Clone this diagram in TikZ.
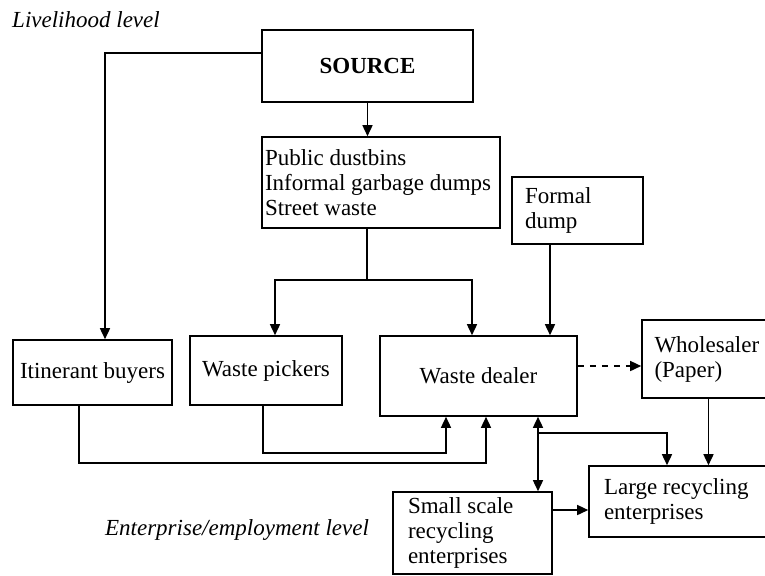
\documentclass[tikz,border=0pt]{standalone}
\usepackage{fontspec}
\setmainfont{Liberation Serif}
\usetikzlibrary{arrows.meta}

\begin{document}
\begin{tikzpicture}[x=0.5pt, y=-0.5pt, line width=0.75pt,
        font=\fontsize{11.5}{12.5}\selectfont,
        box/.style={draw, line width=0.8pt, inner sep=0pt},
        lbox/.style={box, align=flush left, inner xsep=#1},
        arr/.style={-{Triangle[length=5.5pt, width=5pt]}},
        dblarr/.style={{Triangle[length=5.5pt, width=5pt]}-{Triangle[length=5.5pt, width=5pt]}}]
    \useasboundingbox (0,0) rectangle (765,575);

    % level labels
    \node[font=\fontsize{11.5}{12.5}\selectfont\itshape] (livelihood) at (86,20) {Livelihood level};
    \node[font=\fontsize{11.5}{12.5}\selectfont\itshape] (enterprise) at (237,530) {Enterprise/employment level};

    % boxes
    \node[box, minimum width=105.5pt, minimum height=36pt, font=\fontsize{11.5}{12.5}\selectfont\bfseries] (source) at (367.5,66) {SOURCE};
    \node[lbox=1.5pt, text width=116pt, minimum height=45.5pt] (bins) at (381,182.5) {Public dustbins\\Informal garbage dumps\\Street waste};
    \node[lbox=6.5pt, text width=52.5pt, minimum height=33.5pt] (fdump) at (577.5,210.5) {Formal\\dump};
    \node[box, minimum width=79.5pt, minimum height=32.5pt] (itin) at (92.5,372.5) {Itinerant buyers};
    \node[box, minimum width=76pt, minimum height=34.5pt] (pickers) at (266,370.5) {Waste pickers};
    \node[box, minimum width=98.5pt, minimum height=40pt] (dealer) at (478.5,376) {Waste dealer};
    \node[lbox=6.25pt, text width=54pt, minimum height=39pt] (whole) at (708.5,359) {Wholesaler\\(Paper)};
    \node[lbox=7.5pt, text width=78pt, minimum height=35.5pt] (large) at (682,501.5) {Large recycling\\enterprises};
    \node[lbox=7.5pt, text width=64.5pt, minimum height=41pt] (small) at (472.5,533) {Small scale\\recycling\\enterprises};

    % helper points
    \coordinate (split) at (367,280);
    \coordinate (jct) at (538,433);

    % connectors
    \draw[arr] ([yshift=6.5pt]source.west) -| ([xshift=6.25pt]itin.north);
    \draw[arr] (source.south) -- (source.south |- bins.north);
    \draw (bins.south -| split) -- (split);
    \draw[arr] (split) -| ([xshift=4.5pt]pickers.north);
    \draw[arr] (split) -| ([xshift=-3.25pt]dealer.north);
    \draw[arr] ([xshift=-13.75pt]fdump.south) -- ([xshift=-13.75pt]fdump.south |- dealer.north);
    \draw[arr, dashed] ([yshift=5pt]dealer.east) -- ([yshift=5pt]dealer.east -| whole.west);
    \draw[arr] (whole.south) -- (whole.south |- large.north);
    \draw[dblarr] ([xshift=29.75pt]dealer.south) -- ([xshift=29.75pt]dealer.south |- small.north);
    \draw[arr] (jct) -| ([xshift=-7.5pt]large.north);
    \draw[arr] ([yshift=11.5pt]small.east) -- ([yshift=11.5pt]small.east -| large.west);
    \draw[arr] ([xshift=-1.5pt]pickers.south) -- ++(0,47) -| ([xshift=-16.25pt]dealer.south);
    \draw[arr] ([xshift=-6.75pt]itin.south) -- ++(0,57) -| ([xshift=3.75pt]dealer.south);
\end{tikzpicture}
\end{document}
